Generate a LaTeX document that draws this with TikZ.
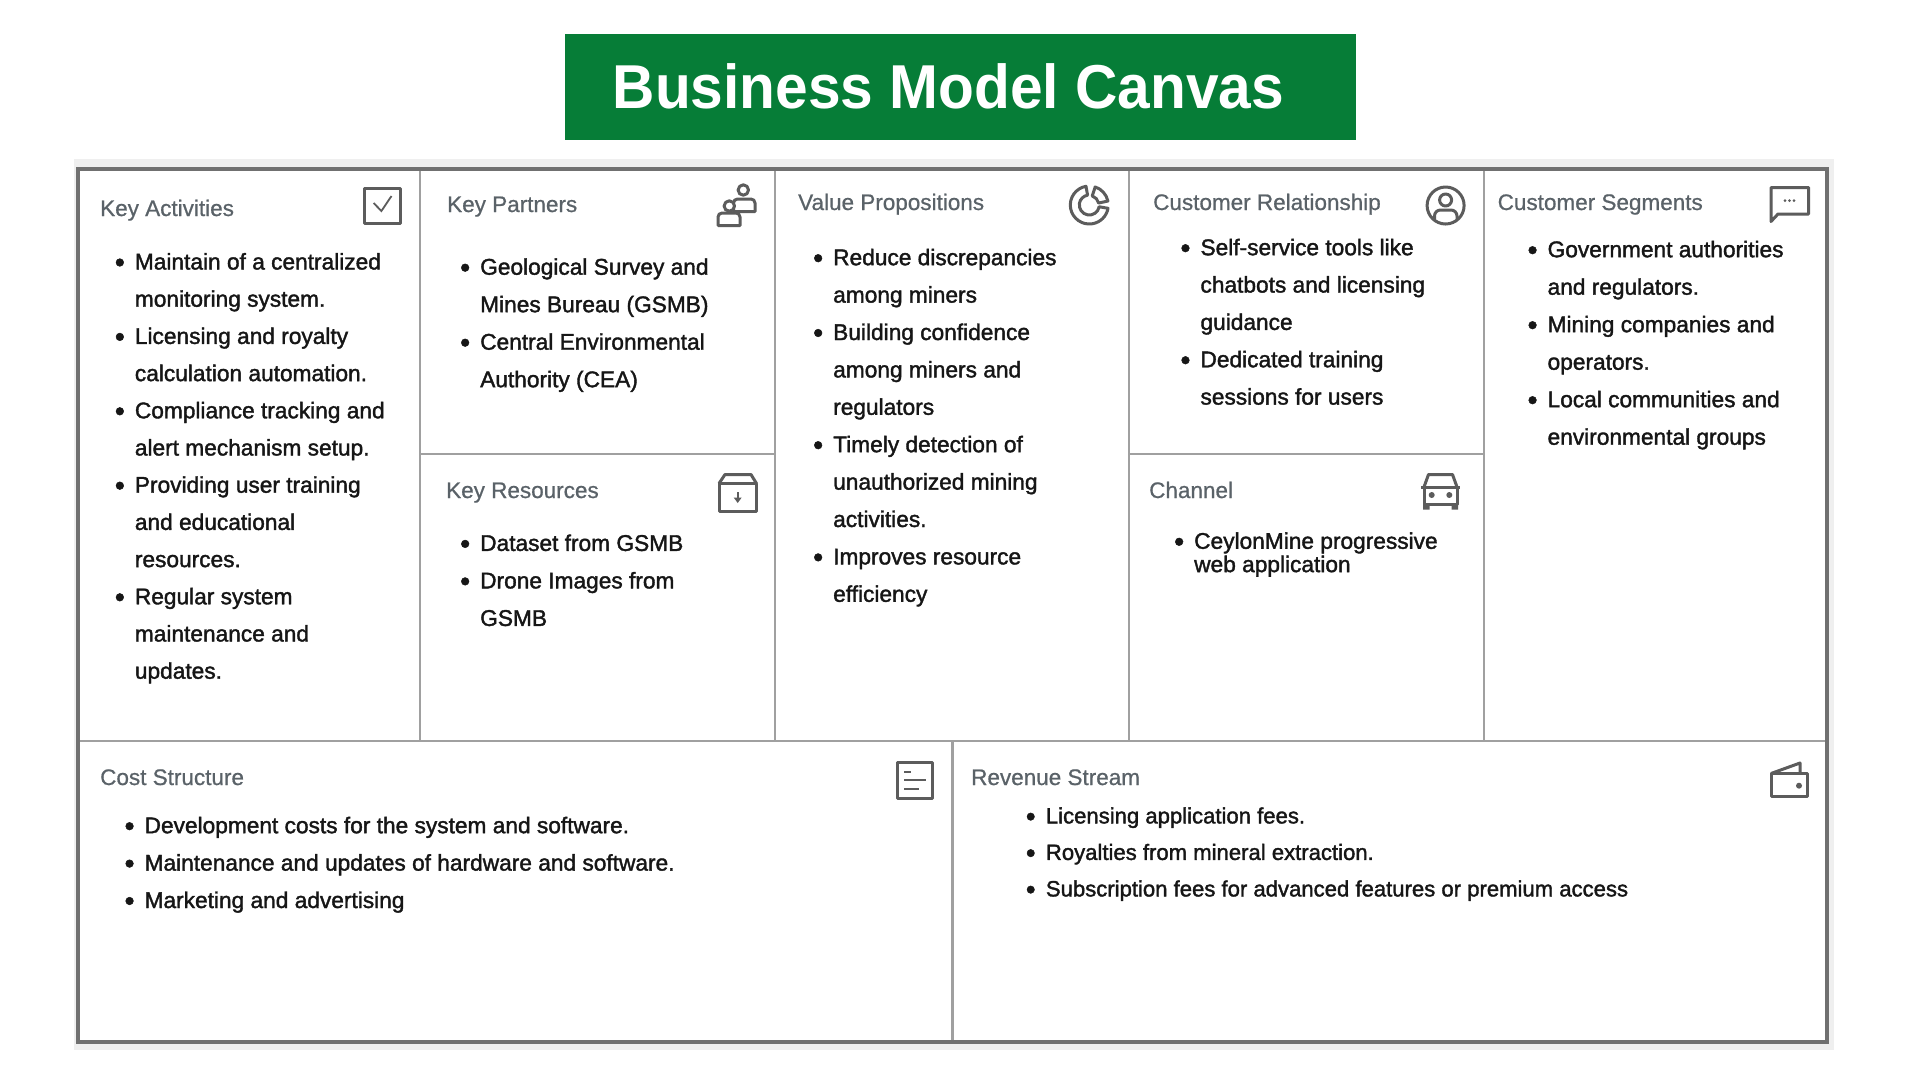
\documentclass[tikz,border=0pt]{standalone}
\usepackage{fontspec}
\usepackage{graphicx}
\setmainfont{Liberation Sans}
\newfontfamily\bodyf[FakeBold=1.6]{Liberation Sans}
\newfontfamily\headf[FakeBold=0.7]{Liberation Sans}
\newfontfamily\titlef{Liberation Sans}
\definecolor{titlegreen}{HTML}{067D37}
\definecolor{bandgray}{HTML}{EFEFEF}
\definecolor{outerline}{HTML}{707070}
\definecolor{innerline}{HTML}{A0A0A0}
\definecolor{iconc}{HTML}{5C5C5C}
\definecolor{headc}{HTML}{5A6268}
\definecolor{bodyc}{HTML}{161616}
\newcommand{\BL}{\makebox[20pt][l]{\raisebox{-2.4pt}{\scalebox{1.25}{•}}}}
\newcommand{\CO}{\hspace*{20pt}}
\newcommand{\FL}{\rule{0pt}{20pt}}
\tikzset{
  x=1pt,y=-1pt,
  panelhead/.style={anchor=base west,inner sep=0pt,font=\headf\fontsize{22.5}{26}\selectfont,text=headc},
  panelbody/.style={anchor=north west,inner sep=0pt,align=left,font=\bodyf\fontsize{22.7}{#1}\selectfont,text=bodyc},
  panelbodysmall/.style={anchor=north west,inner sep=0pt,align=left,font=\bodyf\fontsize{22.1}{#1}\selectfont,text=bodyc},
  icon/.style={draw=iconc,line width=3pt,line join=round},
  inner rule/.style={draw=innerline,line width=2.6pt},
  outer rule/.style={draw=outerline,line width=4pt}
}
\begin{document}
\begin{tikzpicture}
\useasboundingbox (0,0) rectangle (1920,1080);
\fill[white] (0,0) rectangle (1920,1080);
% title
\node[fill=titlegreen,minimum width=791pt,minimum height=105.6pt,inner sep=0pt] (titlebar) at (960,86.8) {};
\node[anchor=base,inner sep=0pt,text=white,font=\titlef\bfseries\fontsize{62}{70}\selectfont] (title) at (948.4,108) {\scalebox{0.946}[1]{Business Model Canvas}};
% band and grid
\fill[bandgray] (74,159) rectangle (1834,1050);
\fill[white] (77.5,168) rectangle (1827,1042);
\draw[inner rule] (420,168) -- (420,741);
\draw[inner rule] (775,168) -- (775,741);
\draw[inner rule] (1129,168) -- (1129,741);
\draw[inner rule] (1484,168) -- (1484,741);
\draw[inner rule] (420,454) -- (775,454);
\draw[inner rule] (1129,454) -- (1484,454);
\draw[inner rule] (77.5,741) -- (1827,741);
\draw[inner rule] (952.5,741) -- (952.5,1042);
\draw[outer rule] (77.5,169) rectangle (1827,1042);
% headings
\node[panelhead] (hKA) at (100,216) {Key Activities};
\node[panelhead] (hKP) at (447,212) {Key Partners};
\node[panelhead] (hKR) at (446,498) {Key Resources};
\node[panelhead] (hVP) at (798,210) {Value Propositions};
\node[panelhead] (hCR) at (1153,210) {Customer Relationship};
\node[panelhead] (hCS) at (1497.5,210) {Customer Segments};
\node[panelhead] (hCH) at (1149,498) {Channel};
\node[panelhead] (hCO) at (100,785) {Cost Structure};
\node[panelhead] (hRE) at (971,785) {Revenue Stream};
% bodies
\node[panelbody=37.2pt] (bKA) at (114.7,249.3) {\FL\BL Maintain of a centralized\\\CO monitoring system.\\\BL Licensing and royalty\\\CO calculation automation.\\\BL Compliance tracking and\\\CO alert mechanism setup.\\\BL Providing user training\\\CO and educational\\\CO resources.\\\BL Regular system\\\CO maintenance and\\\CO updates.};
\node[panelbody=37.5pt] (bKP) at (460,254.5) {\FL\BL Geological Survey and\\\CO Mines Bureau (GSMB)\\\BL Central Environmental\\\CO Authority (CEA)};
\node[panelbody=37.5pt] (bKR) at (460,530.7) {\FL\BL Dataset from GSMB\\\BL Drone Images from\\\CO GSMB};
\node[panelbody=37.4pt] (bVP) at (813,245) {\FL\BL Reduce discrepancies\\\CO among miners\\\BL Building confidence\\\CO among miners and\\\CO regulators\\\BL Timely detection of\\\CO unauthorized mining\\\CO activities.\\\BL Improves resource\\\CO efficiency};
\node[panelbody=37.35pt] (bCR) at (1180.3,235) {\FL\BL Self-service tools like\\\CO chatbots and licensing\\\CO guidance\\\BL Dedicated training\\\CO sessions for users};
\node[panelbody=37.5pt] (bCS) at (1527.4,237) {\FL\BL Government authorities\\\CO and regulators.\\\BL Mining companies and\\\CO operators.\\\BL Local communities and\\\CO environmental groups};
\node[panelbody=23.3pt] (bCH) at (1174,528.6) {\FL\BL CeylonMine progressive\\\CO web application};
\node[panelbody=37.4pt] (bCO) at (124.4,813) {\FL\BL Development costs for the system and software.\\\BL Maintenance and updates of hardware and software.\\\BL Marketing and advertising};
\node[panelbodysmall=36.5pt] (bRE) at (1025.7,803.2) {\FL\BL Licensing application fees.\\\BL Royalties from mineral extraction.\\\BL Subscription fees for advanced features or premium access};
% icons
% checkbox
\draw[icon] (364,188) rectangle (400,223.5);
\draw[draw=iconc,line width=1.8pt] (373.6,203) -- (381.4,211) -- (391.5,196);
% partners
\draw[icon] (743.3,190) circle (5.2);
\draw[icon] (733.5,211.5) -- (733.5,203) arc (-180:-90:4) -- (751,199) arc (-90:0:4) -- (755,211.5) -- cycle;
\draw[icon,fill=white] (729.3,206) circle (5.2);
\draw[icon,fill=white] (718,225.5) -- (718,217) arc (-180:-90:4) -- (736,213) arc (-90:0:4) -- (740,225.5) -- cycle;
% resources box
\draw[icon] (719,483.5) rectangle (756.5,511.5);
\draw[icon] (719,483.5) -- (725,474.5) -- (751,474.5) -- (756.5,483.5);
\draw[draw=iconc,line width=1.8pt] (737.7,492) -- (737.7,500);
\fill[iconc] (733.7,497.5) -- (741.7,497.5) -- (737.7,503) -- cycle;
% value chart
\draw[icon] (1089.3,205) ++(-100:19) arc (-100:-350:19) -- ++(-170:9) arc (-350:-100:10) -- cycle;
\draw[icon] (1089.3,205) ++(-72:19) arc (-72:-12:19) -- ++(-192:9.5) arc (-12:-72:9.5) -- cycle;
% relationship
\draw[icon] (1445.6,205.5) circle (18.5);
\draw[icon] (1445.6,200) circle (6);
\draw[icon] (1434.5,220) -- (1434.5,216) arc (-180:-90:6) -- (1451,210) arc (-90:0:6) -- (1457,220);
% speech
\draw[icon] (1771,214) -- (1771,187.5) -- (1808.5,187.5) -- (1808.5,214) -- (1778,214) -- (1771,221.5) -- cycle;
\fill[iconc] (1785,200.7) circle (1.5) (1789.5,200.7) circle (1.5) (1794,200.7) circle (1.5);
% car
\draw[icon] (1424,487) -- (1428.5,474.5) -- (1452.5,474.5) -- (1457,487);
\draw[icon] (1424,487) rectangle (1457,504);
\draw[draw=iconc,line width=2.4pt] (1421,487.5) -- (1460,487.5);
\fill[iconc] (1423,503) rectangle (1429.5,509.5) (1451.5,503) rectangle (1458,509.5);
\fill[iconc] (1431.7,495) circle (3) (1449.3,495) circle (3);
% cost doc
\draw[icon] (897,762.5) rectangle (932.5,798.5);
\draw[draw=iconc,line width=2.4pt] (904,771.7) -- (911.3,771.7) (904,780) -- (925.7,780) (904,789) -- (919.4,789);
% wallet
\draw[icon] (1771,773.5) rectangle (1807,796.5);
\draw[icon] (1771,773.5) -- (1800,763) -- (1800,773.5);
\fill[iconc] (1799,785.7) circle (3);
\end{tikzpicture}
\end{document}
